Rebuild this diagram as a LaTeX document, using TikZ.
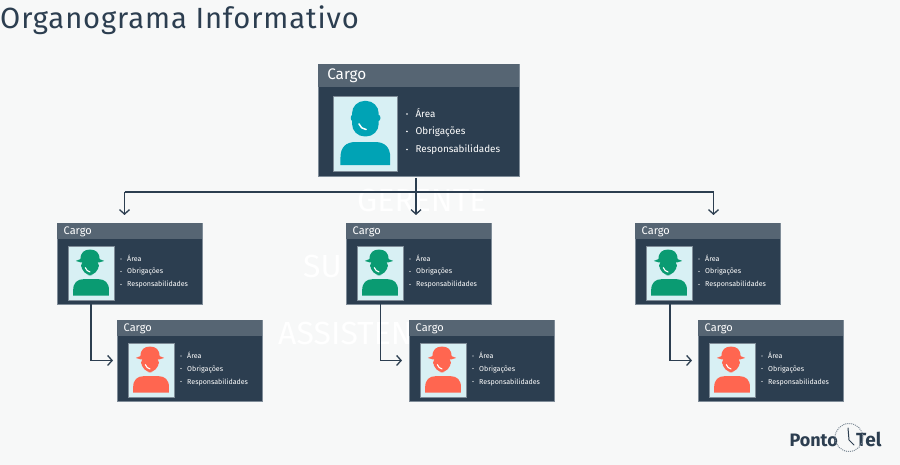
\documentclass[tikz,border=0pt]{standalone}
\usepackage{fontspec}
\setmainfont{Fira Sans}
\newfontfamily\titlefont[LetterSpace=3]{Fira Sans}
\usetikzlibrary{arrows.meta}
\definecolor{OrgNavy}{HTML}{2C3E50}
\definecolor{OrgSlate}{HTML}{566573}
\definecolor{OrgEdge}{HTML}{7F8C98}
\definecolor{OrgPaper}{HTML}{F7F8F8}
\definecolor{OrgPhoto}{HTML}{D8F0F4}
\definecolor{OrgTeal}{HTML}{00A3B5}
\definecolor{OrgGreen}{HTML}{0A9B72}
\definecolor{OrgCoral}{HTML}{FF6650}
\tikzset{
  cardbody/.style={draw=OrgEdge,line width=0.4pt,fill=OrgNavy,minimum width=144.5pt,minimum height=80.5pt,inner sep=0pt,anchor=north west},
  cardhead/.style={fill=OrgSlate,minimum width=144.5pt,minimum height=16pt,inner sep=0pt,anchor=north west},
  cardtitle/.style={text=white,font=\fontsize{11}{13}\selectfont,inner sep=0pt,anchor=base west},
  carditem/.style={text=white,font=\fontsize{7.1}{8}\selectfont,inner sep=0pt,anchor=base west},
  ghost/.style={text=white,font=\fontsize{32}{34}\selectfont,inner sep=0pt},
  link/.style={line width=1.3pt,draw=OrgNavy,-{Straight Barb[length=4.5pt,width=10pt,line width=1.3pt]}},
  linkplain/.style={line width=1.3pt,draw=OrgNavy}
}
\newcommand{\plainhead}[1]{
  \fill[#1,rounded corners=2.5] (17.7,19) rectangle (47.7,25.5);
  \fill[#1,rounded corners=12.5] (19,5) rectangle (46,41);
  \draw[white,line width=1.5pt,line cap=round] (26,28.3) .. controls (27,31.5) and (30,33.8) .. (33.3,34);
}
\newcommand{\hardhat}[1]{
  \fill[#1,rounded corners=11] (18.5,14) rectangle (43.5,41.5);
  \fill[#1] (17.5,19) .. controls (17.5,9) and (23,5) .. (31,5) .. controls (39,5) and (44.5,9) .. (44.5,19) -- cycle;
  \fill[#1] (11,21) -- (17.5,18.5) -- (44.5,18.5) -- (51,21) -- (44.5,23) -- (17.5,23) -- cycle;
  \draw[white,line width=1.1pt,line cap=round] (24.4,30.5) .. controls (25.4,33.5) and (28,36) .. (31,36.6);
}
% one card: name, left, top, scale, colour, head
\newcommand{\cargocard}[6]{
  \begin{scope}[shift={(#2,#3)},scale=#4,every node/.append style={transform shape}]
    \node[cardbody] (#1) at (0,0) {};
    \node[cardhead] (#1head) at (0,0) {};
    \node[cardtitle] (#1title) at (6.5,11.5) {Cargo};
    \begin{scope}[shift={(11,23)},scale=0.71]
      \fill[OrgPhoto,draw=OrgEdge,line width=0.4pt] (0,0) rectangle (65,76);
      \fill[#5] (7.3,70) -- (7.3,62) .. controls (7.3,52) and (13,46.7) .. (22,46.7) -- (43,46.7)
        .. controls (52,46.7) and (57.7,52) .. (57.7,62) -- (57.7,70) -- cycle;
      #6{#5}
    \end{scope}
    \foreach \rowy/\rowname/\rowtext in {36/a/Área,48.5/b/Obrigações,61.5/c/Responsabilidades}{
      \fill[white] (64,\rowy) circle (0.65);
      \node[carditem] (#1\rowname) at (70,\rowy+2.5) {\rowtext};
    }
  \end{scope}
}
\begin{document}
\begin{tikzpicture}[x=1pt,y=-1pt]
  \useasboundingbox (0,0) rectangle (900,465);
  \fill[OrgPaper] (0,0) rectangle (900,465);
  \node[text=OrgNavy,font=\fontsize{29.2}{32}\titlefont,inner sep=0pt,anchor=base west] (pagetitle) at (0,29) {Organograma Informativo};
  \node[ghost,anchor=west] (ghostA) at (357,200) {GERENTE};
  \node[ghost,anchor=west] (ghostB) at (303,266) {SU};
  \node[ghost,anchor=west] (ghostC) at (278,333) {ASSISTEN};

  \cargocard{chief}{318}{64}{1.39}{OrgTeal}{\plainhead}
  \cargocard{midA}{57}{223}{1}{OrgGreen}{\hardhat}
  \cargocard{midB}{346}{223}{1}{OrgGreen}{\hardhat}
  \cargocard{midC}{635}{223}{1}{OrgGreen}{\hardhat}
  \cargocard{lowA}{117}{320}{1}{OrgCoral}{\hardhat}
  \cargocard{lowB}{409}{320}{1}{OrgCoral}{\hardhat}
  \cargocard{lowC}{698}{320}{1}{OrgCoral}{\hardhat}

  \coordinate (busA) at (124.5,192);
  \coordinate (busC) at (713.5,192);
  \coordinate (tipA) at (124.5,215);
  \coordinate (tipB) at (416,215);
  \coordinate (tipC) at (713.5,215);
  \coordinate (dropB) at (416,178);
  \draw[linkplain] (busA) -- (busC);
  \draw[link] (busA) -- (tipA);
  \draw[link] (dropB) -- (tipB);
  \draw[link] (busC) -- (tipC);
  \draw[link,shorten >=4pt] (midA.south) ++(-38.5,0) |- (lowA.west);
  \draw[link,shorten >=7pt] (midB.south) ++(-38,0) |- (lowB.west);
  \draw[link,shorten >=6pt] (midC.south) ++(-37.5,0) |- (lowC.west);

  \node[text=OrgNavy,font=\fontsize{18}{20}\selectfont\bfseries,inner sep=0pt,anchor=base east] (logoA) at (838,446) {Ponto};
  \node[text=OrgNavy,font=\fontsize{19}{20}\selectfont\bfseries,inner sep=0pt,anchor=base west] (logoB) at (856,446) {Tel};
  \draw[OrgEdge,line width=1pt,densely dotted] (849,437.5) circle (14);
  \draw[OrgNavy,line width=1pt,line cap=round] (848,428) -- (849,440) -- (854,445);
\end{tikzpicture}
\end{document}
